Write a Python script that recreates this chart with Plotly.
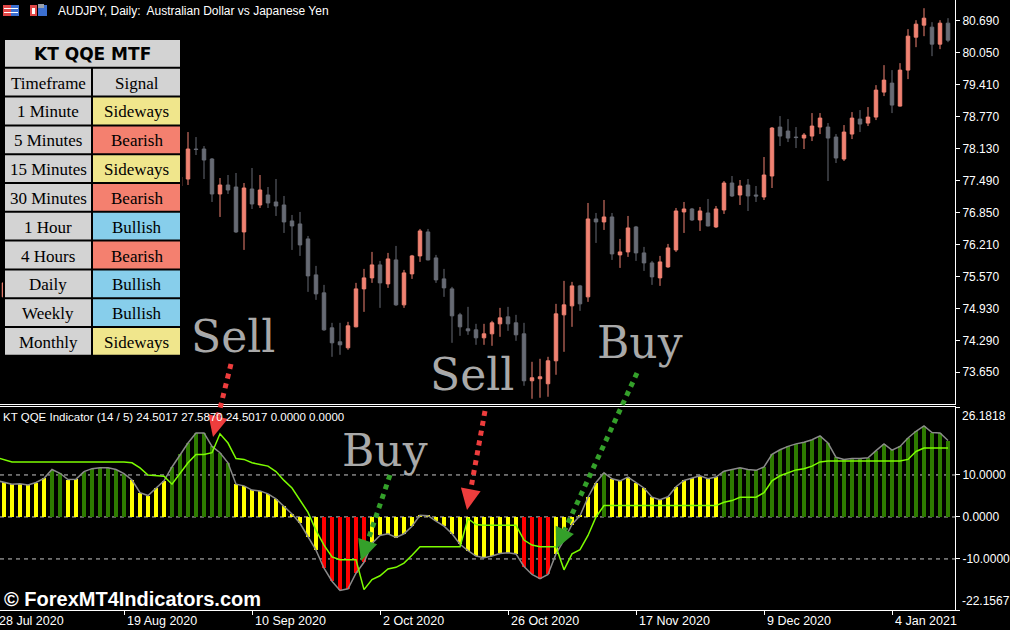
"""
AUDJPY daily candles with the KT QQE MTF panel underneath
"""
import math
import plotly.graph_objects as go

# ---------------------------------------------------------------- data
# one entry per daily bar, 28 Jul 2020 .. 13 Jan 2021 (bars 2-22 sit behind the table)
opens = [75.30, 75.16, 75.44, 75.60, 75.52, 75.82, 75.70, 76.02, 76.20, 76.05,
         76.15, 76.40, 76.48, 76.55, 76.45, 76.20, 76.05, 76.20, 76.45, 76.70,
         76.95, 77.20, 77.30, 77.38, 77.52, 78.12, 78.12, 77.92, 77.22, 77.40,
         77.36, 76.46, 77.32, 77.00, 77.20, 77.06, 77.00, 76.68, 76.62, 76.32,
         75.60, 75.24, 74.54, 74.26, 74.14, 74.56, 75.32, 75.54, 75.80, 75.42,
         75.90, 75.00, 75.62, 75.98, 76.46, 75.94, 75.52, 75.32, 74.80, 74.52,
         74.50, 74.34, 74.42, 74.62, 74.76, 74.64, 74.42, 73.48, 73.52, 73.42,
         73.88, 74.80, 74.98, 75.38, 75.16, 76.72, 76.66, 76.76, 76.00, 76.06,
         76.56, 76.04, 75.84, 75.54, 75.76, 76.10, 76.86, 76.92, 76.70, 76.84,
         76.56, 76.90, 77.44, 77.20, 77.40, 77.20, 77.16, 77.58, 78.56, 78.48,
         78.36, 78.34, 78.38, 78.56, 78.56, 78.36, 77.92, 78.42, 78.72, 78.64,
         78.76, 79.26, 79.44, 78.98, 79.70, 80.36, 80.60, 80.56, 80.22, 80.64]
highs = [75.42, 75.50, 75.70, 75.80, 75.90, 76.00, 76.10, 76.30, 76.35, 76.25,
         76.50, 76.60, 76.70, 76.75, 76.60, 76.40, 76.30, 76.55, 76.80, 77.05,
         77.30, 77.45, 77.55, 77.62, 78.46, 78.36, 78.18, 77.94, 77.54, 77.60,
         77.64, 77.44, 77.74, 77.60, 77.36, 77.52, 77.18, 76.80, 76.86, 76.38,
         75.78, 75.40, 74.64, 74.64, 74.66, 75.44, 75.72, 76.06, 75.88, 76.04,
         76.18, 75.70, 76.00, 76.52, 76.52, 76.00, 75.72, 75.36, 74.84, 74.96,
         74.62, 74.62, 74.68, 74.94, 74.96, 74.80, 74.64, 73.86, 73.92, 73.96,
         75.02, 75.48, 75.46, 75.40, 77.04, 76.84, 77.10, 76.84, 76.32, 76.78,
         76.58, 76.16, 75.88, 75.98, 76.22, 76.94, 77.06, 76.94, 76.96, 77.12,
         76.98, 77.48, 77.58, 77.50, 77.52, 77.38, 77.96, 78.56, 78.78, 78.72,
         78.56, 78.44, 78.84, 78.84, 78.64, 78.42, 78.60, 78.86, 78.90, 78.96,
         79.40, 79.80, 79.70, 79.84, 80.52, 80.70, 80.94, 80.66, 80.70, 80.74]
lows = [75.05, 75.10, 75.30, 75.40, 75.45, 75.60, 75.62, 75.90, 75.95, 75.90,
        76.05, 76.20, 76.30, 76.35, 76.10, 75.95, 75.90, 76.10, 76.35, 76.60,
        76.85, 77.00, 77.10, 77.32, 77.40, 78.00, 77.52, 77.06, 76.76, 77.22,
        76.44, 76.10, 76.92, 76.94, 76.94, 76.78, 76.44, 76.10, 75.98, 75.26,
        75.10, 74.48, 73.96, 74.00, 74.10, 74.55, 74.86, 75.44, 74.94, 75.34,
        74.98, 74.94, 75.52, 75.86, 75.89, 75.44, 75.16, 74.24, 74.38, 74.40,
        74.20, 74.20, 74.18, 74.36, 74.48, 74.28, 73.38, 73.12, 73.14, 73.16,
        73.60, 74.06, 74.56, 74.88, 75.06, 76.24, 76.50, 75.90, 75.74, 75.96,
        75.88, 75.68, 75.40, 75.38, 75.74, 76.06, 76.44, 76.68, 76.48, 76.57,
        76.54, 76.82, 77.16, 77.00, 76.88, 77.06, 77.10, 77.34, 78.18, 78.26,
        78.14, 78.12, 78.28, 78.42, 77.48, 77.84, 77.88, 78.32, 78.46, 78.58,
        78.70, 79.18, 78.84, 78.97, 79.52, 80.16, 80.38, 79.98, 80.12, 80.26]
closes = [75.16, 75.44, 75.60, 75.52, 75.82, 75.70, 76.02, 76.20, 76.05, 76.15,
          76.40, 76.48, 76.55, 76.45, 76.20, 76.05, 76.20, 76.45, 76.70, 76.95,
          77.20, 77.30, 77.40, 77.56, 78.12, 78.11, 77.90, 77.22, 77.40, 77.30,
          76.46, 77.34, 77.02, 77.30, 77.04, 76.98, 76.66, 76.58, 76.20, 75.58,
          75.22, 74.50, 74.24, 74.20, 74.58, 75.32, 75.54, 75.80, 75.44, 75.92,
          75.00, 75.64, 75.98, 76.48, 75.90, 75.50, 75.34, 74.78, 74.56, 74.48,
          74.34, 74.42, 74.64, 74.74, 74.62, 74.40, 73.48, 73.54, 73.56, 73.88,
          74.82, 75.00, 75.38, 75.02, 76.72, 76.66, 76.76, 76.02, 76.06, 76.54,
          76.04, 75.84, 75.56, 75.86, 76.14, 76.88, 76.92, 76.70, 76.88, 76.58,
          76.92, 77.44, 77.18, 77.38, 77.18, 77.18, 77.60, 78.54, 78.38, 78.34,
          78.35, 78.40, 78.58, 78.74, 78.34, 77.94, 78.46, 78.74, 78.62, 78.76,
          79.30, 79.50, 79.00, 79.70, 80.38, 80.62, 80.74, 80.22, 80.64, 80.30]

# QQE main line (histogram + grey line) and its trailing level (lime line)
qqe_line = [8.7, 8.3, 7.8, 7.9, 7.6, 8.2, 9.2, 11.3, 10.4, 8.9,
            9.0, 10.8, 11.5, 11.7, 11.7, 11.3, 10.3, 8.8, 5.8, 5.1,
            6.9, 8.6, 11.9, 14.9, 17.6, 20.0, 20.0, 16.8, 15.3, 12.9,
            7.8, 7.4, 6.4, 6.2, 5.5, 4.3, 2.5, 0.7, -1.5, -4.7,
            -7.9, -12.2, -15.3, -17.5, -17.1, -13.4, -10.8, -6.3, -4.4, -4.0,
            -4.9, -4.0, -2.2, 0.4, 0.3, -1.0, -2.2, -4.0, -6.5, -8.0,
            -9.3, -9.7, -9.3, -8.7, -8.5, -8.8, -11.8, -13.7, -14.7, -13.7,
            -8.8, -5.5, -1.8, 0.3, 4.7, 8.2, 10.5, 9.1, 8.6, 9.5,
            8.2, 6.9, 4.7, 4.1, 4.8, 7.2, 8.7, 9.2, 9.8, 9.1,
            9.5, 10.9, 11.3, 11.7, 11.3, 11.1, 11.9, 14.9, 16.0, 16.8,
            17.4, 17.8, 18.4, 19.3, 17.6, 14.2, 13.7, 13.9, 13.9, 14.1,
            15.8, 17.4, 15.9, 16.8, 18.8, 20.4, 21.7, 20.1, 20.0, 18.2]
trail_line = [14.2, 13.7, 13.1, 13.1, 13.1, 13.1, 13.1, 13.1, 13.1, 13.1,
              13.1, 13.1, 13.1, 13.1, 13.1, 13.1, 13.1, 12.9, 11.7, 10.0,
              9.8, 9.7, 7.8, 10.5, 12.9, 14.9, 14.9, 15.3, 19.8, 17.6,
              13.9, 13.7, 12.9, 12.5, 12.1, 10.8, 8.7, 6.9, 4.0, 1.1,
              -3.2, -6.7, -9.5, -10.2, -10.2, -10.2, -17.3, -14.9, -14.0, -12.4,
              -12.0, -11.0, -9.1, -7.1, -7.1, -7.1, -7.1, -7.1, -7.1, -0.4,
              -1.8, -2.0, -2.0, -2.0, -2.0, -2.0, -5.5, -6.7, -7.1, -7.1,
              -7.1, -12.6, -8.8, -7.8, -4.4, 0.0, 2.7, 2.7, 2.7, 2.7,
              2.7, 2.7, 2.7, 2.7, 2.7, 2.7, 2.7, 2.7, 2.7, 2.7,
              2.7, 3.5, 3.9, 4.7, 4.7, 4.7, 5.8, 8.6, 9.8, 10.5,
              11.2, 11.5, 12.1, 13.1, 13.3, 13.3, 13.3, 13.3, 13.3, 13.3,
              13.3, 13.3, 13.3, 13.3, 13.7, 15.6, 16.4, 16.4, 16.4, 16.4]

tick_bars = [0, 16, 32, 48, 64, 80, 96, 112]
tick_labels = ["28 Jul 2020", "19 Aug 2020", "10 Sep 2020", "2 Oct 2020",
               "26 Oct 2020", "17 Nov 2020", "9 Dec 2020", "4 Jan 2021"]
price_ticks = [80.690, 80.050, 79.410, 78.770, 78.130, 77.490,
               76.850, 76.210, 75.570, 74.930, 74.290, 73.650]
qqe_ticks = [26.1818, 10.0, 0.0, -10.0, -22.1567]
qqe_levels = [10.0, 0.0, -10.0]

timeframes = ["1 Minute", "5 Minutes", "15 Minutes", "30 Minutes", "1 Hour",
              "4 Hours", "Daily", "Weekly", "Monthly"]
signals = ["Sideways", "Bearish", "Sideways", "Bearish", "Bullish",
           "Bearish", "Bullish", "Bullish", "Sideways"]

# ---------------------------------------------------------------- style
UP = "#f08272"
DOWN = "#676b74"
SIGNAL_COLORS = {"Sideways": "#f0e68c", "Bearish": "#f4806f", "Bullish": "#87ceeb"}
CELL_GRAY = "#d3d3d3"
LABEL_GRAY = "#a9a9a9"
RED_ARROW = "#ee3d3d"
GREEN_ARROW = "#34a02a"

W_PLOT, H_PLOT = 955, 610  # plot area in pixels (margins r=55, b=20)


def px(x):
    return x / W_PLOT


def py(y):
    return 1 - y / H_PLOT


def bar_color(v):
    if v > 10:
        return "#2e7b00"
    if v < -10:
        return "#ff0000"
    return "#ffff00"


bars = list(range(len(closes)))
x_range = [0.5, 119.875]


def bar_to_paper(b):
    return (b - x_range[0]) / (x_range[1] - x_range[0])


fig = go.Figure()

fig.add_trace(go.Candlestick(
    x=bars, open=opens, high=highs, low=lows, close=closes,
    increasing=dict(line=dict(color=UP, width=1), fillcolor=UP),
    decreasing=dict(line=dict(color=DOWN, width=1), fillcolor=DOWN),
    whiskerwidth=0, xaxis="x", yaxis="y", showlegend=False, hoverinfo="skip"
))

fig.add_trace(go.Bar(
    x=bars, y=qqe_line, width=0.55,
    marker=dict(color=[bar_color(v) for v in qqe_line], line=dict(width=0)),
    xaxis="x2", yaxis="y2", showlegend=False, hoverinfo="skip"
))
fig.add_trace(go.Scatter(
    x=bars, y=qqe_line, mode="lines", line=dict(color="#8a8a8a", width=1.5),
    xaxis="x2", yaxis="y2", showlegend=False, hoverinfo="skip"
))
fig.add_trace(go.Scatter(
    x=bars, y=trail_line, mode="lines", line=dict(color="#7cfc00", width=1.5),
    xaxis="x2", yaxis="y2", showlegend=False, hoverinfo="skip"
))

shapes = []
annotations = []

# dotted level lines
for lv in qqe_levels:
    shapes.append(dict(type="line", xref="paper", x0=0, x1=1, yref="y2", y0=lv, y1=lv,
                       line=dict(color="#c8c8c8", width=1, dash="4px,4px"), layer="below"))

# ---------------------------------------------------------------- MTF table
tbl_left, tbl_mid, tbl_right = 4, 92, 181
tbl_top, row_h = 39, 28.8
n_rows = len(timeframes) + 2
shapes.append(dict(type="rect", xref="paper", yref="paper", layer="above",
                   x0=px(tbl_left - 1), x1=px(tbl_right + 1),
                   y0=py(tbl_top - 1), y1=py(tbl_top + n_rows * row_h + 1),
                   fillcolor="black", line=dict(width=0)))


def cell(x0, x1, r, fill, text, font):
    y0 = tbl_top + r * row_h
    shapes.append(dict(type="rect", xref="paper", yref="paper", layer="above",
                       x0=px(x0 + 1), x1=px(x1 - 1), y0=py(y0 + 1), y1=py(y0 + row_h - 1),
                       fillcolor=fill, line=dict(width=0)))
    annotations.append(dict(xref="paper", yref="paper", x=px((x0 + x1) / 2),
                            y=py(y0 + row_h / 2 + 1), text=text, showarrow=False,
                            xanchor="center", yanchor="middle", font=font))


serif = dict(family="Liberation Serif", size=17, color="black")
cell(tbl_left, tbl_right, 0, CELL_GRAY, "<b>KT QQE MTF</b>",
     dict(family="DejaVu Sans", size=17, color="black"))
cell(tbl_left, tbl_mid, 1, CELL_GRAY, "Timeframe", serif)
cell(tbl_mid, tbl_right, 1, CELL_GRAY, "Signal", serif)
for k, (tf, sg) in enumerate(zip(timeframes, signals)):
    cell(tbl_left, tbl_mid, k + 2, CELL_GRAY, tf, serif)
    cell(tbl_mid, tbl_right, k + 2, SIGNAL_COLORS[sg], sg, serif)


# ---------------------------------------------------------------- arrows
def arrow(x0, y0, x1, y1, color):
    dx, dy = x1 - x0, y1 - y0
    n = math.hypot(dx, dy)
    ux, uy = dx / n, dy / n
    bx, by = x1 - 21 * ux, y1 - 21 * uy
    shapes.append(dict(type="line", xref="paper", yref="paper", layer="above",
                       x0=px(x0), y0=py(y0), x1=px(bx), y1=py(by),
                       line=dict(color=color, width=5, dash="5px,5px")))
    qx, qy = -uy * 10, ux * 10
    path = "M {} {} L {} {} L {} {} Z".format(
        px(bx + qx), py(by + qy), px(bx - qx), py(by - qy), px(x1), py(y1))
    shapes.append(dict(type="path", xref="paper", yref="paper", layer="above",
                       path=path, fillcolor=color, line=dict(width=0)))


arrow(231, 364, 213, 437, RED_ARROW)
arrow(485, 411, 467, 510, RED_ARROW)
arrow(390, 475, 361, 561, GREEN_ARROW)
arrow(637, 373, 556, 549, GREEN_ARROW)

big = dict(family="DejaVu Serif", size=44, color=LABEL_GRAY)
for txt, cx, cy in [("Sell", 233, 336), ("Sell", 472, 374), ("Buy", 385, 450), ("Buy", 640, 342)]:
    annotations.append(dict(xref="paper", yref="paper", x=px(cx), y=py(cy), text=txt,
                            showarrow=False, xanchor="center", yanchor="middle", font=big))

# ---------------------------------------------------------------- header icons / captions
for x0, x1, col in [(3, 11, "#e04848"), (11, 19, "#3b6fd0"), (30, 37, "#e04848"), (38, 47, "#3b6fd0")]:
    shapes.append(dict(type="rect", xref="paper", yref="paper", layer="above",
                       x0=px(x0), x1=px(x1), y0=py(5), y1=py(16), fillcolor=col,
                       line=dict(width=0)))
for yy in (8.5, 12.5):
    shapes.append(dict(type="line", xref="paper", yref="paper", layer="above",
                       x0=px(4), x1=px(18), y0=py(yy), y1=py(yy),
                       line=dict(color="white", width=1)))
shapes.append(dict(type="rect", xref="paper", yref="paper", layer="above",
                   x0=px(32), x1=px(35), y0=py(8), y1=py(14), fillcolor="white",
                   line=dict(width=0)))
shapes.append(dict(type="rect", xref="paper", yref="paper", layer="above",
                   x0=px(38), x1=px(44), y0=py(4), y1=py(8), fillcolor="#9aa0aa",
                   line=dict(width=0)))

annotations.append(dict(xref="paper", yref="paper", x=px(56), y=py(11), showarrow=False,
                        text="AUDJPY, Daily:  Australian Dollar vs Japanese Yen",
                        xanchor="left", yanchor="middle",
                        font=dict(family="Liberation Sans", size=12, color="white")))
annotations.append(dict(xref="paper", yref="paper", x=px(1), y=py(417), showarrow=False,
                        text="KT QQE Indicator (14 / 5) 24.5017 27.5870 24.5017 0.0000 0.0000",
                        xanchor="left", yanchor="middle",
                        font=dict(family="Liberation Sans", size=11.5, color="white")))
annotations.append(dict(xref="paper", yref="paper", x=px(2), y=py(599), showarrow=False,
                        text="<b>© ForexMT4Indicators.com</b>", xanchor="left", yanchor="middle",
                        font=dict(family="Liberation Sans", size=20, color="white")))

# date labels start just right of their tick, as in the terminal
# (placed on paper so the first one, left of the visible range, is kept)
for b, lab in zip(tick_bars, tick_labels):
    annotations.append(dict(xref="paper", yref="paper", x=bar_to_paper(b), y=py(621),
                            text=lab, showarrow=False, xanchor="left", yanchor="middle",
                            xshift=1, font=dict(family="Liberation Sans", size=12.5,
                                                color="white")))

# end labels of the indicator scale sit inside the panel
annotations.append(dict(xref="paper", yref="y2", x=1, y=qqe_ticks[0], text=f"{qqe_ticks[0]:.4f}",
                        showarrow=False, xanchor="left", yanchor="top", xshift=5,
                        font=dict(family="Liberation Sans", size=12, color="white")))
annotations.append(dict(xref="paper", yref="y2", x=1, y=qqe_ticks[-1], text=f"{qqe_ticks[-1]:.4f}",
                        showarrow=False, xanchor="left", yanchor="bottom", xshift=5,
                        font=dict(family="Liberation Sans", size=12, color="white")))

axis_font = dict(family="Liberation Sans", size=12, color="white")
fig.update_layout(
    width=1010, height=630,
    margin=dict(l=0, r=55, t=0, b=20),
    paper_bgcolor="black", plot_bgcolor="black",
    showlegend=False, boxgap=0.38, bargap=0,
    xaxis=dict(domain=[0, 1], anchor="y", range=x_range, showticklabels=False,
               showgrid=False, zeroline=False, showline=True, linecolor="white",
               linewidth=1, ticks="", rangeslider=dict(visible=False)),
    yaxis=dict(domain=[(H_PLOT - 404) / H_PLOT, 1], anchor="x", side="right",
               range=[73.015, 81.104], tickvals=price_ticks,
               ticktext=[f"{v:.3f}" for v in price_ticks], tickfont=axis_font,
               ticks="outside", ticklen=4, tickcolor="white", showgrid=False,
               zeroline=False, showline=True, linecolor="white", linewidth=1),
    xaxis2=dict(domain=[0, 1], anchor="y2", range=x_range, tickvals=tick_bars,
                showticklabels=False, ticks="outside", ticklen=4, tickcolor="white",
                showgrid=False, zeroline=False, showline=True, mirror=True,
                linecolor="white", linewidth=1),
    yaxis2=dict(domain=[0, (H_PLOT - 407) / H_PLOT], anchor="x2", side="right",
                range=[qqe_ticks[-1], qqe_ticks[0]], tickvals=qqe_ticks,
                ticktext=[""] + [f"{v:.4f}" for v in qqe_ticks[1:-1]] + [""],
                tickfont=axis_font, ticks="outside", ticklen=4, tickcolor="white",
                showgrid=False, zeroline=False, showline=True, linecolor="white",
                linewidth=1),
    shapes=shapes,
    annotations=annotations,
)

# the page's default 8px body margin would push the chart off the window
fig.write_html("out.html", config={"displayModeBar": False},
               post_script="document.body.style.margin='0px';")
